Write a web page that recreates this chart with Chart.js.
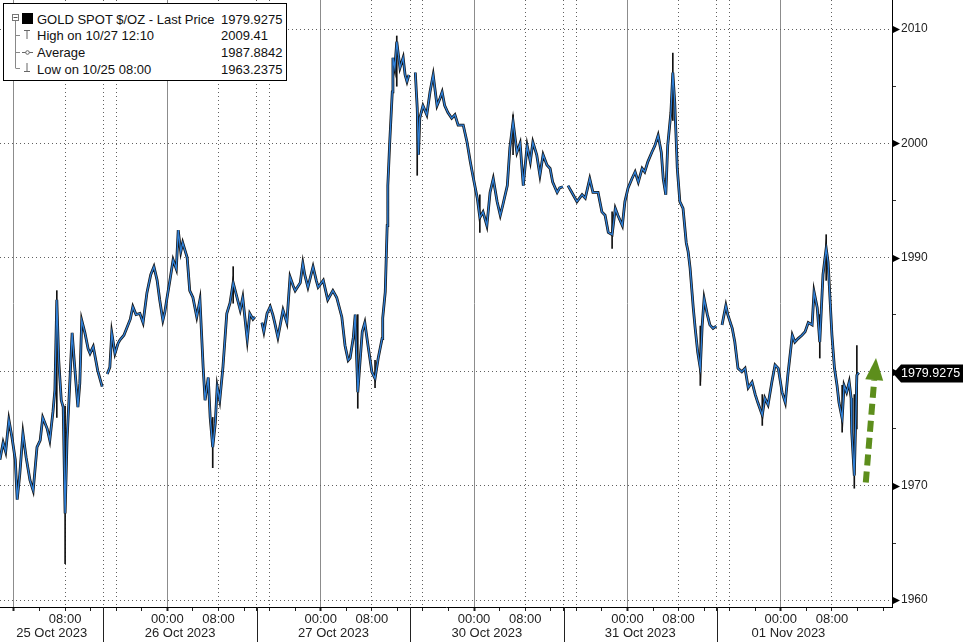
<!DOCTYPE html>
<html>
<head>
<meta charset="utf-8">
<script src="https://cdn.jsdelivr.net/npm/chart.js@4/dist/chart.umd.min.js"></script>
<style>
  html, body { margin:0; padding:0; background:#fff; }
  #wrap { position:relative; width:963px; height:642px; overflow:hidden; }
  #c { position:absolute; left:0; top:0; }
  #legend { position:absolute; left:3px; top:3px; width:282px; height:76px; border:1px solid #000; background:#fff;
            font-family:'Liberation Sans', Arial, sans-serif; font-size:13px; color:#111; }
  #legend .lab { position:absolute; left:33px; white-space:nowrap; }
  #legend .val { position:absolute; left:217px; white-space:nowrap; }
  #legend svg { position:absolute; left:0; top:0; }
</style>
</head>
<body>
<div id="wrap">
  <canvas id="c" width="963" height="642"></canvas>
  <div id="legend"></div>
</div>
<script>
// ---- data (x = trading hours from 25 Oct 00:00, weekend removed) ----
const s25Oct = [[-2.2,1972.3],[-1.7,1973.8],[-1.3,1973.0],[-0.8,1975.8],[-0.3,1974.2],[0.2,1972.3],[0.5,1968.8],[0.9,1971.0],[1.4,1974.6],[1.9,1972.5],[2.5,1970.5],[3.0,1969.6],[3.6,1973.4],[4.1,1974.0],[4.5,1976.0],[5.2,1975.0],[5.6,1974.0],[6.1,1976.5],[6.4,1978.4],[6.7,1986.3],[7.0,1981.0],[7.4,1977.5],[7.7,1976.9],[8.0,1967.6],[8.3,1974.0],[8.6,1977.5],[9.1,1983.4],[9.5,1980.4],[10.0,1976.9],[10.3,1979.0],[10.6,1984.5],[11.1,1983.4],[11.6,1982.0],[11.9,1981.6],[12.4,1982.2],[12.8,1981.0],[13.1,1980.1],[13.8,1978.7]];
const s26Oct = [[14.6,1979.8],[15.0,1980.4],[15.3,1983.4],[15.8,1981.6],[16.3,1982.5],[16.6,1982.8],[17.2,1983.2],[17.7,1983.9],[18.2,1984.6],[18.6,1985.7],[19.1,1985.0],[19.7,1985.1],[20.2,1984.3],[20.8,1986.9],[21.4,1988.5],[21.9,1989.2],[22.4,1988.0],[22.8,1986.3],[23.3,1984.5],[23.6,1985.2],[23.9,1986.3],[24.4,1988.0],[24.9,1989.8],[25.4,1989.0],[25.7,1992.4],[26.1,1990.5],[26.4,1991.3],[27.1,1990.0],[27.5,1987.1],[28.0,1986.5],[28.6,1984.8],[29.1,1986.3],[29.6,1980.4],[29.9,1977.5],[30.4,1979.5],[30.7,1976.0],[31.1,1973.4],[31.5,1975.5],[31.8,1978.7],[32.2,1977.5],[32.7,1980.4],[33.3,1985.1],[33.8,1986.0],[34.3,1987.8],[34.9,1986.5],[35.4,1985.4],[35.8,1986.5],[36.5,1982.8],[36.9,1985.1],[37.4,1984.6],[37.7,1984.8]];
const s27Oct = [[38.8,1984.3],[39.1,1983.5],[39.6,1985.1],[40.1,1985.7],[40.5,1985.0],[40.8,1984.3],[41.3,1983.0],[41.8,1984.5],[42.1,1985.4],[42.7,1984.3],[43.2,1988.3],[43.7,1987.5],[44.0,1987.1],[44.8,1987.8],[45.2,1989.5],[45.5,1988.5],[46.0,1987.4],[46.8,1989.2],[47.3,1988.0],[47.6,1987.4],[48.4,1988.0],[49.1,1986.3],[49.9,1987.1],[50.5,1986.5],[51.3,1984.8],[51.8,1982.3],[52.3,1981.0],[52.6,1981.2],[53.1,1983.0],[53.4,1985.0],[53.8,1978.2],[54.1,1980.5],[54.5,1983.5],[54.9,1984.3],[55.4,1982.3],[56.0,1980.0],[56.5,1979.4],[57.0,1981.2],[57.6,1982.9],[57.7,1984.7],[58.1,1987.0],[58.4,1992.8],[58.5,1996.3],[58.8,2000.1],[59.2,2004.5],[59.3,2007.5],[59.6,2006.6],[59.9,2008.9],[60.4,2006.6],[60.9,2007.5],[61.2,2006.0],[61.5,2005.4],[61.8,2006.0]];
const s30Oct = [[62.8,2006.2],[63.1,2003.1],[63.3,1999.0],[63.5,2002.2],[64.0,2003.3],[64.6,2002.5],[65.1,2004.5],[65.6,2006.0],[66.2,2003.3],[66.7,2004.0],[67.0,2004.5],[67.4,2003.3],[67.9,2002.7],[68.5,2002.2],[69.0,2002.5],[69.5,2001.6],[70.3,2001.6],[70.9,2000.1],[71.4,1998.4],[71.8,1997.2],[72.5,1995.2],[72.9,1993.5],[73.4,1994.0],[74.0,1992.8],[74.5,1995.7],[75.0,1996.9],[75.6,1994.9],[76.1,1993.7],[76.5,1994.6],[77.2,1996.3],[77.6,1999.6],[78.1,2001.9],[78.7,1999.2],[79.2,2000.0],[79.7,1996.3],[80.3,1999.8],[80.8,1998.4],[81.2,2000.1],[81.8,1999.0],[82.3,1997.2],[82.8,1999.0],[83.4,1998.1],[83.9,1997.8],[84.3,1996.6],[85.0,1995.7],[85.4,1996.1],[85.9,1996.2]];
const s31Oct = [[86.7,1996.3],[87.5,1995.5],[88.1,1994.9],[88.9,1995.5],[89.4,1995.2],[90.1,1996.9],[90.6,1995.7],[91.4,1995.7],[92.0,1994.0],[92.5,1993.7],[93.0,1992.2],[93.6,1992.0],[94.1,1994.3],[94.5,1993.7],[95.2,1992.8],[95.6,1994.9],[96.1,1996.1],[96.7,1996.9],[97.2,1997.5],[97.7,1996.6],[98.3,1997.8],[98.7,1997.5],[99.2,1998.4],[99.8,1999.2],[100.3,1999.8],[100.8,2000.7],[101.3,1999.2],[101.6,1996.9],[102.0,1995.5],[102.3,1999.8],[102.8,2002.7],[103.1,2006.2],[103.4,2003.6],[103.8,1997.8],[104.2,1994.9],[104.7,1994.3],[105.2,1991.3],[105.5,1990.5],[105.8,1989.1],[106.3,1985.6],[106.6,1983.8],[107.0,1981.7],[107.4,1980.3],[107.7,1984.1],[108.0,1986.4],[108.5,1985.0],[108.9,1984.1],[109.4,1983.8],[109.9,1984.0]];
const s01Nov = [[110.8,1984.1],[111.4,1985.8],[111.7,1985.0],[112.4,1983.8],[112.8,1982.6],[113.3,1980.3],[113.9,1980.0],[114.4,1980.3],[114.9,1978.6],[115.5,1979.1],[116.0,1978.0],[116.4,1977.3],[117.1,1976.2],[117.5,1977.7],[118.0,1977.1],[118.6,1979.1],[119.1,1980.6],[119.6,1980.3],[120.2,1978.2],[120.7,1977.3],[121.1,1979.7],[121.8,1983.2],[122.2,1982.6],[122.7,1982.9],[123.3,1983.2],[123.8,1983.5],[124.3,1984.3],[124.9,1984.1],[125.2,1987.0],[125.7,1985.6],[126.1,1982.6],[126.6,1988.5],[127.1,1990.8],[127.4,1989.6],[127.7,1986.4],[128.0,1983.2],[128.4,1980.3],[128.8,1978.8],[129.1,1977.3],[129.6,1975.9],[129.9,1978.8],[130.3,1978.2],[130.7,1979.1],[131.0,1977.7],[131.1,1974.7],[131.5,1970.9],[131.9,1979.7],[132.2,1979.9275]];
// [hour, low, high] of the longest candle wicks
const wicks = [[6.7,1976.0,1987.1],[8.0,1963.2,1977.0],[31.1,1971.6,1976.0],[34.3,1986.0,1989.2],[53.8,1976.8,1985.0],[56.5,1978.6,1981.0],[59.9,2005.0,2009.4],[63.1,1997.2,2004.0],[72.9,1992.2,1995.5],[78.1,1999.0,2002.5],[93.6,1990.8,1994.0],[103.1,2002.0,2007.9],[107.4,1978.8,1984.0],[117.1,1975.3,1978.0],[126.1,1981.2,1985.0],[127.1,1988.0,1992.0],[129.6,1974.7,1978.8],[131.5,1969.8,1978.0],[131.9,1975.0,1982.3]];

const gapHours = [14.3, 38.2, 62.3, 86.3, 110.3];          // trading break between sessions
const sessionStarts = [14, 38, 62, 86, 110];               // session separators
const dateLabels = ['25 Oct 2023','26 Oct 2023','27 Oct 2023','30 Oct 2023','31 Oct 2023','01 Nov 2023'];
const dateLabelHours = [5.9, 26, 50, 74, 98, 121.2];
const yTickValues = [1960,1965,1970,1975,1980,1985,1990,1995,2000,2005,2010];
const X_MIN = -2.19, X_MAX = 137.4, Y_MIN = 1959.4, Y_MAX = 2012.55;

const legendRows = [
  ['GOLD SPOT $/OZ - Last Price', '1979.9275'],
  ['High on 10/27 12:10', '2009.41'],
  ['Average', '1987.8842'],
  ['Low on 10/25 08:00', '1963.2375']
];
const LAST_PRICE = 1979.9275;
const arrowFrom = {x:133.3, y:1970.3};
const arrowTo = {x:134.9, y:1981.2};

// ---- build ----
const sessions = [s25Oct, s26Oct, s27Oct, s30Oct, s31Oct, s01Nov];
const pricePts = [];
sessions.forEach((s, i) => {
  if (i > 0) pricePts.push({x: gapHours[i-1], y: null});
  s.forEach(([h, p]) => pricePts.push({x: h, y: p}));
});
const wickPts = wicks.map(([h, lo, hi]) => ({x: h, y: [lo, hi]}));

const xTickHours = [];
for (let h = 0; h <= 136; h += 4) xTickHours.push(h);
sessionStarts.forEach(h => xTickHours.push(h));
xTickHours.sort((a, b) => a - b);
const hmod = v => ((v % 24) + 24) % 24;
const isDotted = v => { const m = hmod(v); return m === 8 || m === 14 || (m === 16 && v < 130); };

const XFONT = {family: "'Liberation Sans', Arial, sans-serif", size: 13};
const YFONT = {family: "'Liberation Sans', Arial, sans-serif", size: 12};

(function () {
  const lg = document.getElementById('legend');
  const tops = [8, 24, 41, 58];
  let html = '<svg width="36" height="76" xmlns="http://www.w3.org/2000/svg">' +
    '<rect x="8.5" y="10.5" width="6" height="6" fill="#fff" stroke="#777"/>' +
    '<line x1="9.5" y1="13.5" x2="13.5" y2="13.5" stroke="#555"/>' +
    '<rect x="18" y="9" width="11" height="11" fill="#000"/>' +
    '<line x1="11.5" y1="17" x2="11.5" y2="64" stroke="#888"/>' +
    '<line x1="11.5" y1="31.5" x2="16" y2="31.5" stroke="#888"/>' +
    '<line x1="11.5" y1="48.5" x2="16" y2="48.5" stroke="#888"/>' +
    '<line x1="11.5" y1="64.5" x2="16" y2="64.5" stroke="#888"/>' +
    '<line x1="20" y1="26.5" x2="26" y2="26.5" stroke="#666"/>' +
    '<line x1="23" y1="26.5" x2="23" y2="35" stroke="#666"/>' +
    '<line x1="18" y1="48.5" x2="29" y2="48.5" stroke="#666"/>' +
    '<circle cx="23.5" cy="48.5" r="1.8" fill="#fff" stroke="#666"/>' +
    '<line x1="23" y1="59" x2="23" y2="67.5" stroke="#666"/>' +
    '<line x1="20" y1="67.5" x2="26" y2="67.5" stroke="#666"/>' +
    '</svg>';
  legendRows.forEach((r, i) => {
    html += '<div class="lab" style="top:' + tops[i] + 'px">' + r[0] + '</div>' +
            '<div class="val" style="top:' + tops[i] + 'px">' + r[1] + '</div>';
  });
  lg.innerHTML = html;
})();

const decor = {
  id: 'decor',
  afterDraw(chart) {
    const {ctx, chartArea, scales} = chart;
    const x = scales.x, y = scales.y;
    ctx.save();
    ctx.strokeStyle = '#222'; ctx.lineWidth = 1;
    sessionStarts.forEach(h => {
      const px = Math.round(x.getPixelForValue(h)) + 0.5;
      ctx.beginPath(); ctx.moveTo(px, chartArea.bottom); ctx.lineTo(px, chart.height); ctx.stroke();
    });
    ctx.fillStyle = '#000';
    yTickValues.filter(v => v % 10 === 0).forEach(v => {
      const py = Math.round(y.getPixelForValue(v)) + 0.5;
      ctx.beginPath();
      ctx.moveTo(chartArea.right + 1, py - 3.5);
      ctx.lineTo(chartArea.right + 8, py);
      ctx.lineTo(chartArea.right + 1, py + 3.5);
      ctx.closePath(); ctx.fill();
    });
    const ly = Math.round(y.getPixelForValue(LAST_PRICE)) + 0.5;
    const r = chartArea.right;
    ctx.fillStyle = '#000';
    ctx.beginPath();
    ctx.moveTo(r + 1, ly);
    ctx.lineTo(r + 9, ly - 9);
    ctx.lineTo(chart.width, ly - 9);
    ctx.lineTo(chart.width, ly + 9);
    ctx.lineTo(r + 9, ly + 9);
    ctx.closePath(); ctx.fill();
    ctx.fillStyle = '#fff';
    ctx.font = "12.5px 'Liberation Sans', Arial, sans-serif";
    ctx.textBaseline = 'middle'; ctx.textAlign = 'left';
    ctx.fillText(LAST_PRICE.toFixed(4), r + 9, ly + 0.5);
    const x0 = x.getPixelForValue(arrowFrom.x), y0 = y.getPixelForValue(arrowFrom.y);
    const x1 = x.getPixelForValue(arrowTo.x), y1 = y.getPixelForValue(arrowTo.y);
    const ang = Math.atan2(y1 - y0, x1 - x0);
    const headLen = 22, headW = 9;
    const bx = x1 - headLen * Math.cos(ang), by = y1 - headLen * Math.sin(ang);
    ctx.strokeStyle = '#5d8e1c'; ctx.fillStyle = '#5d8e1c';
    ctx.lineWidth = 6; ctx.setLineDash([11, 6]); ctx.lineCap = 'butt';
    ctx.beginPath(); ctx.moveTo(x0, y0); ctx.lineTo(bx, by); ctx.stroke();
    ctx.setLineDash([]);
    ctx.beginPath();
    ctx.moveTo(x1, y1);
    ctx.lineTo(bx + headW * Math.sin(ang), by - headW * Math.cos(ang));
    ctx.lineTo(bx - headW * Math.sin(ang), by + headW * Math.cos(ang));
    ctx.closePath(); ctx.fill();
    ctx.restore();
  }
};

new Chart(document.getElementById('c'), {
  type: 'line',
  data: {
    datasets: [
      { type: 'bar', data: wickPts, backgroundColor: '#111', borderWidth: 0, barThickness: 1, order: 3 },
      { type: 'line', data: pricePts, borderColor: '#141414', borderWidth: 2.8, pointRadius: 0, spanGaps: false, tension: 0, order: 2 },
      { type: 'line', data: pricePts, borderColor: '#2f80d8', borderWidth: 1.3, pointRadius: 0, spanGaps: false, tension: 0, order: 1 }
    ]
  },
  options: {
    responsive: false, animation: false, devicePixelRatio: 1, events: [],
    layout: { padding: 0 },
    plugins: { legend: { display: false }, tooltip: { enabled: false } },
    scales: {
      x: {
        type: 'linear', position: 'bottom', min: X_MIN, max: X_MAX, offset: false,
        afterBuildTicks: s => { s.ticks = xTickHours.map(v => ({value: v})); },
        afterFit: s => { s.height = 18; s.paddingLeft = 0; s.paddingRight = 0; },
        ticks: {
          autoSkip: false, maxRotation: 0, minRotation: 0, padding: 1, color: '#222', font: XFONT,
          callback: v => { if (v === 0) return ''; const m = hmod(v); return m === 0 ? '00:00' : (m === 8 ? '08:00' : ''); }
        },
        grid: {
          offset: false, lineWidth: 1, tickLength: 4, drawTicks: true,
          color: c => { if (!c.tick) return 'rgba(0,0,0,0)'; const v = c.tick.value; return hmod(v) === 0 ? '#8c8c8c' : (isDotted(v) ? '#606060' : 'rgba(0,0,0,0)'); },
          tickColor: '#222',
          tickWidth: c => (c.tick && hmod(c.tick.value) === 0 ? 2 : 1)
        },
        border: { display: true, color: '#000', width: 1, dash: c => (c.tick && hmod(c.tick.value) !== 0 ? [1, 3] : []) }
      },
      x2: {
        type: 'linear', position: 'bottom', min: X_MIN, max: X_MAX, offset: false,
        afterBuildTicks: s => { s.ticks = dateLabelHours.map(v => ({value: v})); },
        afterFit: s => { s.height = 17; s.paddingLeft = 0; s.paddingRight = 0; },
        ticks: { autoSkip: false, maxRotation: 0, minRotation: 0, padding: 1, color: '#222', font: XFONT,
                 callback: (v, i) => dateLabels[i] },
        grid: { display: false, drawTicks: false, offset: false },
        border: { display: false }
      },
      y: {
        type: 'linear', position: 'right', min: Y_MIN, max: Y_MAX,
        afterBuildTicks: s => { s.ticks = yTickValues.map(v => ({value: v})); },
        afterFit: s => { s.width = 71; s.paddingTop = 0; s.paddingBottom = 0; },
        ticks: { padding: 5, color: '#222', font: YFONT, callback: v => (v % 10 === 0 ? String(v) : '') },
        grid: {
          lineWidth: 1, tickLength: 4,
          color: c => (c.tick && c.tick.value % 10 === 0 ? '#606060' : 'rgba(0,0,0,0)'),
          tickColor: c => (c.tick && c.tick.value % 10 === 0 ? 'rgba(0,0,0,0)' : '#333')
        },
        border: { display: true, color: '#000', width: 1, dash: c => (c.tick ? [1, 3] : []) }
      }
    }
  },
  plugins: [decor]
});
</script>
</body>
</html>
